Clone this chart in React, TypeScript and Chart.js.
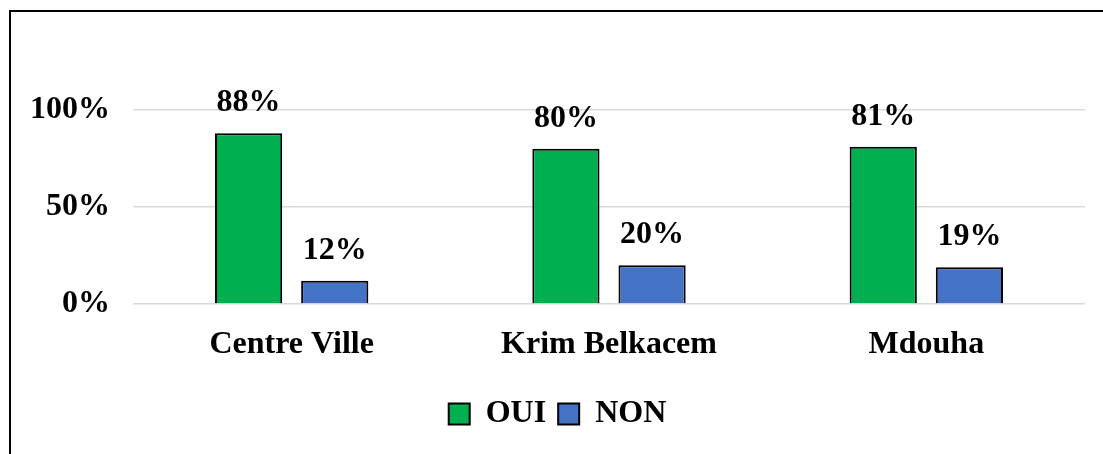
import { useEffect, useRef } from "react";
import { Chart, registerables } from "chart.js";

Chart.register(...registerables);

const categories = ["Centre Ville", "Krim Belkacem", "Mdouha"];
const ouiValues = [88, 80, 81];
const nonValues = [12, 20, 19];
const seriesNames = ["OUI", "NON"];
const yMin = 0;
const yMax = 100;
const yStep = 50;

const FONT_FAMILY = "'Liberation Serif', 'Times New Roman', serif";
const FONT_SIZE = 32;

export default function App() {
  const ref = useRef<HTMLCanvasElement>(null);

  useEffect(() => {
    if (!ref.current) return;
    const font = { family: FONT_FAMILY, size: FONT_SIZE, weight: "bold" as const };

    const valueLabels = {
      id: "valueLabels",
      afterDatasetsDraw(chart: any) {
        const ctx = chart.ctx;
        ctx.save();
        ctx.font = `bold ${FONT_SIZE}px ${FONT_FAMILY}`;
        ctx.fillStyle = "#000";
        ctx.textAlign = "center";
        ctx.textBaseline = "alphabetic";
        chart.data.datasets.forEach((ds: any, i: number) => {
          const meta = chart.getDatasetMeta(i);
          meta.data.forEach((el: any, j: number) => {
            ctx.fillText(`${ds.data[j]}%`, el.x, el.y - 22);
          });
        });
        ctx.restore();
      },
    };

    const frame = {
      id: "frame",
      afterDraw(chart: any) {
        const ctx = chart.ctx;
        ctx.save();
        ctx.strokeStyle = "#000";
        ctx.lineWidth = 2;
        ctx.beginPath();
        ctx.moveTo(10, chart.height);
        ctx.lineTo(10, 11);
        ctx.lineTo(chart.width, 11);
        ctx.stroke();
        ctx.restore();
      },
    };

    const chart = new Chart(ref.current, {
      type: "bar",
      data: {
        labels: categories,
        datasets: [
          {
            label: seriesNames[0],
            data: ouiValues,
            backgroundColor: "#00B050",
            borderColor: "#000",
            borderWidth: 2,
            categoryPercentage: 0.543,
            barPercentage: 0.78,
          },
          {
            label: seriesNames[1],
            data: nonValues,
            backgroundColor: "#4472C4",
            borderColor: "#000",
            borderWidth: 2,
            categoryPercentage: 0.543,
            barPercentage: 0.78,
          },
        ],
      },
      options: {
        responsive: false,
        animation: false,
        layout: { padding: { left: 30, top: 110, right: 18, bottom: 14 } },
        plugins: {
          tooltip: { enabled: false },
          legend: {
            position: "bottom",
            labels: {
              color: "#000",
              font,
              boxWidth: 21,
              boxHeight: 21,
              padding: 12,
            },
          },
        },
        scales: {
          x: {
            grid: { display: false, drawTicks: false },
            border: { display: false },
            ticks: { color: "#000", font, padding: 22 },
            afterFit(scale: any) {
              scale.height = 82;
            },
          },
          y: {
            min: yMin,
            max: yMax,
            grid: { color: "#d9d9d9", lineWidth: 1.5, drawTicks: false },
            border: { display: false },
            ticks: {
              stepSize: yStep,
              color: "#000",
              font,
              padding: 23,
              callback: (v: any) => `${v}%`,
            },
            afterFit(scale: any) {
              scale.width = 103;
            },
          },
        },
      },
      plugins: [valueLabels, frame],
    });

    return () => chart.destroy();
  }, []);

  return (
    <div style={{ position: "absolute", left: 0, top: 0, width: 1103, height: 454, background: "#fff" }}>
      <canvas ref={ref} width={1103} height={454} style={{ width: 1103, height: 454, display: "block" }} />
    </div>
  );
}
